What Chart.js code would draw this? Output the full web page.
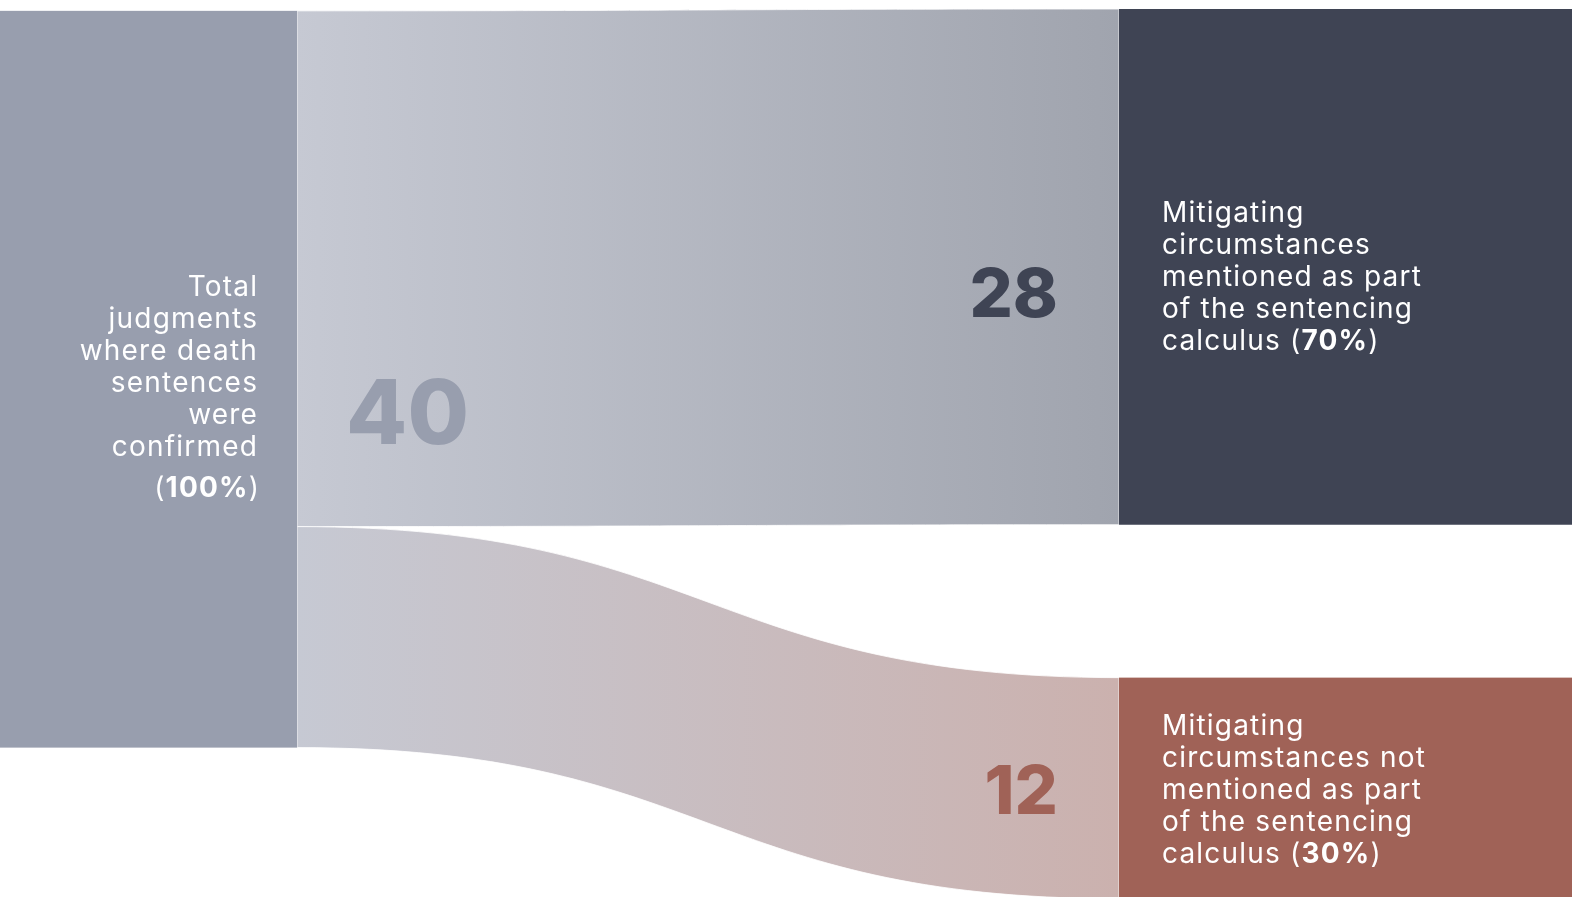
<!DOCTYPE html>
<html>
<head>
<meta charset="utf-8">
<script src="https://cdn.jsdelivr.net/npm/chart.js@4.4.1/dist/chart.umd.min.js"></script>
<style>
  html, body { margin: 0; padding: 0; background: #ffffff; }
  #wrap { width: 1572px; height: 897px; position: relative; }
</style>
</head>
<body>
<div id="wrap"><canvas id="chart"></canvas></div>
<script>
// data
var nodeLabels = [
  ['Total', 'judgments', 'where death', 'sentences', 'were', 'confirmed'],
  ['Mitigating', 'circumstances', 'mentioned as part', 'of the sentencing', 'calculus'],
  ['Mitigating', 'circumstances not', 'mentioned as part', 'of the sentencing', 'calculus']
];
var nodeValues = [40, 28, 12];
var nodeShares = ['100%', '70%', '30%'];
var flowFrom = [0, 0];
var flowTo = [1, 2];
var flowValues = [28, 12];

// look
var nodeColors = ['#989eae', '#3f4454', '#a06257'];
var flowColorsStart = ['#c6c9d3', '#c6c9d3'];
var flowColorsEnd = ['#a0a4ae', '#cbb1ae'];
var numberColors = ['#989eae', '#3f4454', '#a06257'];

// layout (x in 0..1 of the width, y in value units)
var layout = {
  col: [[0, 0.189], [0.7118, 1.0]],
  colOffset: [0.1, 0],
  gap: 8.3,
  textFont: '"Inter", "DejaVu Sans", sans-serif',
  textSize: 28,
  spacing: '1.2px',
  lineH: 32
};

// stack nodes into columns
function nodeBoxes() {
  var boxes = [];
  var colOf = [0, 1, 1];
  var cursor = [layout.colOffset[0], layout.colOffset[1]];
  for (var i = 0; i < nodeValues.length; i++) {
    var c = colOf[i];
    boxes.push({ col: c, y0: cursor[c], y1: cursor[c] + nodeValues[i] });
    cursor[c] += nodeValues[i] + layout.gap;
  }
  return boxes;
}

function drawRuns(ctx, runs, x, y, align) {
  var total = 0;
  runs.forEach(function(r) { ctx.font = r.font; total += ctx.measureText(r.text).width; });
  var cx = align === 'right' ? x - total : x;
  ctx.textAlign = 'left';
  runs.forEach(function(r) {
    ctx.font = r.font;
    ctx.fillText(r.text, cx, y);
    cx += ctx.measureText(r.text).width;
  });
}

var sankeyPlugin = {
  id: 'sankey',
  beforeDatasetsDraw: function(chart) {
    var ctx = chart.ctx;
    var xs = chart.scales.x, ys = chart.scales.y;
    var boxes = nodeBoxes();
    var px = function(v) { return xs.getPixelForValue(v); };
    var py = function(v) { return ys.getPixelForValue(v); };
    ctx.save();

    // flows
    var outUsed = {}, inUsed = {};
    for (var f = 0; f < flowValues.length; f++) {
      var s = boxes[flowFrom[f]], t = boxes[flowTo[f]];
      var so = outUsed[flowFrom[f]] || 0, ti = inUsed[flowTo[f]] || 0;
      var sy0 = py(s.y0 + so), sy1 = py(s.y0 + so + flowValues[f]);
      var ty0 = py(t.y0 + ti), ty1 = py(t.y0 + ti + flowValues[f]);
      outUsed[flowFrom[f]] = so + flowValues[f];
      inUsed[flowTo[f]] = ti + flowValues[f];
      var x0 = px(layout.col[s.col][1]), x1 = px(layout.col[t.col][0]);
      var xm = (x0 + x1) / 2;
      var g = ctx.createLinearGradient(x0, 0, x1, 0);
      g.addColorStop(0, flowColorsStart[f]);
      g.addColorStop(1, flowColorsEnd[f]);
      ctx.fillStyle = g;
      ctx.beginPath();
      ctx.moveTo(x0, sy0);
      ctx.bezierCurveTo(xm, sy0, xm, ty0, x1, ty0);
      ctx.lineTo(x1, ty1);
      ctx.bezierCurveTo(xm, ty1, xm, sy1, x0, sy1);
      ctx.closePath();
      ctx.fill();
      ctx.strokeStyle = 'rgba(255,255,255,0.8)';
      ctx.lineWidth = 1;
      ctx.stroke();

      // flow value
      ctx.fillStyle = numberColors[flowTo[f]];
      ctx.font = '800 68px "Inter", sans-serif';
      ctx.textBaseline = 'middle';
      ctx.textAlign = 'right';
      var ny = (ty0 + ty1) / 2 + (f === 0 ? 30 : 5);
      ctx.fillText(String(flowValues[f]), x1 - 61, ny);
    }

    // source total
    var b0 = boxes[0];
    ctx.fillStyle = numberColors[0];
    ctx.font = '800 89px "Inter", sans-serif';
    ctx.textAlign = 'left';
    ctx.textBaseline = 'middle';
    ctx.fillText(String(nodeValues[0]), px(layout.col[0][1]) + 49, (py(b0.y0) + py(b0.y1)) / 2 + 38);

    // nodes
    ctx.letterSpacing = layout.spacing;
    for (var i = 0; i < boxes.length; i++) {
      var b = boxes[i];
      var l = px(layout.col[b.col][0]), r = px(layout.col[b.col][1]);
      ctx.fillStyle = nodeColors[i];
      ctx.fillRect(l, py(b.y0), r - l, py(b.y1) - py(b.y0));

      // label
      ctx.fillStyle = '#ffffff';
      ctx.textBaseline = 'alphabetic';
      var reg = '400 ' + layout.textSize + 'px ' + layout.textFont;
      var bold = '700 ' + layout.textSize + 'px ' + layout.textFont;
      var lines = nodeLabels[i];
      var cy = (py(b.y0) + py(b.y1)) / 2;
      if (i === 0) {
        var startY = cy - 83;
        for (var k = 0; k < lines.length; k++) {
          drawRuns(ctx, [{ text: lines[k], font: reg }], r - 39, startY + k * layout.lineH, 'right');
        }
        drawRuns(ctx, [{ text: '(', font: reg }, { text: nodeShares[i], font: bold }, { text: ')', font: reg }],
          r - 37, startY + lines.length * layout.lineH + 9, 'right');
      } else {
        var n = lines.length;
        var top = cy + (i === 1 ? 9 : 1) - (n - 1) * layout.lineH / 2 + 10;
        for (var k2 = 0; k2 < n; k2++) {
          var runs = [{ text: lines[k2], font: reg }];
          if (k2 === n - 1) {
            runs = [{ text: lines[k2] + ' (', font: reg }, { text: nodeShares[i], font: bold }, { text: ')', font: reg }];
          }
          drawRuns(ctx, runs, l + 43, top + k2 * layout.lineH, 'left');
        }
      }
    }
    ctx.restore();
  }
};

var ctxEl = document.getElementById('chart');
var chart = new Chart(ctxEl, {
  type: 'scatter',
  data: { datasets: [{ data: [] }] },
  options: {
    responsive: true,
    maintainAspectRatio: false,
    animation: false,
    layout: { padding: 0 },
    plugins: { legend: { display: false }, tooltip: { enabled: false } },
    scales: {
      x: { type: 'linear', min: 0, max: 1, display: false },
      y: { type: 'linear', min: -0.489, max: 48.21, reverse: true, display: false }
    }
  },
  plugins: [sankeyPlugin]
});
</script>
</body>
</html>
